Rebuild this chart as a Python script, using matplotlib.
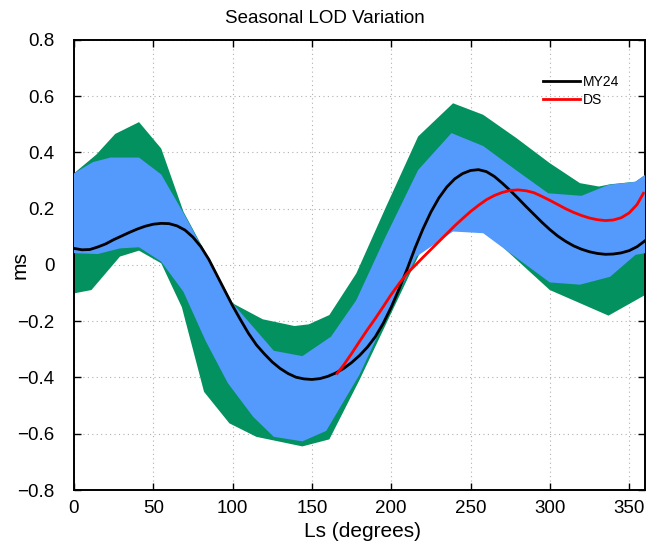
import matplotlib
matplotlib.use("Agg")
import matplotlib.pyplot as plt

plt.rcParams['font.family'] = ['Liberation Sans', 'DejaVu Sans']

# ---- data ----
# outer (green) envelope
gu_x = [0, 14, 26, 41, 55, 69, 100, 119, 139, 148, 161, 178, 197, 217, 239, 258, 279, 300, 319, 331, 338, 354, 360]
gu_y = [0.326, 0.392, 0.466, 0.508, 0.414, 0.19, -0.136, -0.193, -0.217, -0.211, -0.178, -0.03, 0.21, 0.457, 0.575, 0.534, 0.451, 0.362, 0.291, 0.279, 0.287, 0.296, 0.32]
gl_x = [0, 11, 29, 41, 55, 68, 82, 98, 115, 144, 161, 180, 197, 218, 240, 258, 300, 337, 360]
gl_y = [-0.101, -0.089, 0.030, 0.051, 0.006, -0.15, -0.451, -0.563, -0.611, -0.645, -0.62, -0.409, -0.207, 0.042, 0.131, 0.127, -0.089, -0.18, -0.107]
# inner (blue) band
bu_x = [0, 12, 23, 41, 55, 69, 100, 126, 144, 162, 178, 196, 217, 238, 258, 279, 299, 320, 337, 354, 360]
bu_y = [0.326, 0.366, 0.382, 0.382, 0.322, 0.185, -0.136, -0.305, -0.324, -0.255, -0.125, 0.095, 0.338, 0.469, 0.423, 0.336, 0.255, 0.246, 0.285, 0.296, 0.32]
bl_x = [0, 15, 29, 41, 55, 69, 83, 97, 113, 126, 144, 159, 180, 197, 216, 239, 258, 300, 319, 338, 354, 360]
bl_y = [0.042, 0.039, 0.059, 0.063, 0.012, -0.095, -0.27, -0.42, -0.54, -0.611, -0.627, -0.59, -0.39, -0.185, 0.03, 0.119, 0.113, -0.062, -0.07, -0.042, 0.036, 0.042]

# MY24 curve
my24_ls = list(range(0, 361, 5))
my24_v = [0.059, 0.054, 0.055, 0.064, 0.075, 0.090, 0.103, 0.116, 0.128, 0.138, 0.145, 0.148, 0.147,
          0.139, 0.124, 0.099, 0.065, 0.020, -0.035, -0.090, -0.145, -0.195, -0.243, -0.284, -0.316,
          -0.345, -0.368, -0.386, -0.399, -0.405, -0.407, -0.404, -0.396, -0.384, -0.368, -0.347,
          -0.322, -0.292, -0.255, -0.207, -0.150, -0.085, -0.015, 0.060, 0.128, 0.188, 0.238, 0.277,
          0.306, 0.325, 0.336, 0.339, 0.332, 0.315, 0.291, 0.265, 0.237, 0.208, 0.180, 0.152, 0.126,
          0.103, 0.084, 0.068, 0.056, 0.047, 0.041, 0.038, 0.039, 0.043, 0.051, 0.065, 0.086]
# DS curve
ds_ls = [166] + list(range(170, 360, 5)) + [359]
ds_v = [-0.385, -0.356, -0.315, -0.272, -0.230, -0.190, -0.148, -0.105, -0.066, -0.030, -0.002,
        0.027, 0.055, 0.083, 0.111, 0.139, 0.165, 0.190, 0.212, 0.232, 0.247, 0.258, 0.265, 0.267,
        0.264, 0.257, 0.244, 0.230, 0.215, 0.200, 0.187, 0.176, 0.167, 0.161, 0.158, 0.160, 0.168,
        0.185, 0.215, 0.255]

xticks = [0, 50, 100, 150, 200, 250, 300, 350]
yticks = [-0.8, -0.6, -0.4, -0.2, 0, 0.2, 0.4, 0.6, 0.8]
ytick_labels = ['\u22120.8', '\u22120.6', '\u22120.4', '\u22120.2', '0', '0.2', '0.4', '0.6', '0.8']

green = '#03915f'
blue = '#5499fc'

fig = plt.figure(figsize=(6.56, 5.47), dpi=100)
ax = fig.add_axes([0.1128, 0.1042, 0.8704, 0.8227])

ax.fill(gu_x + gl_x[::-1], gu_y + gl_y[::-1], color=green, lw=0, zorder=2)
ax.fill(bu_x + bl_x[::-1], bu_y + bl_y[::-1], color=blue, lw=0, zorder=3)
ax.plot(my24_ls, my24_v, color='black', lw=2, label='MY24', zorder=4, solid_joinstyle='round')
ax.plot(ds_ls, ds_v, color='red', lw=2, label='DS', zorder=5, solid_joinstyle='round')

ax.set_xlim(0, 360)
ax.set_ylim(-0.8, 0.8)
ax.set_xticks(xticks)
ax.set_yticks(yticks)
ax.set_yticklabels(ytick_labels)
ax.tick_params(direction='in', length=5, width=1, labelsize=13.5, top=True, right=True)
ax.tick_params(axis='y', pad=14)
ax.tick_params(axis='x', pad=7)
ax.grid(True, linestyle=(0, (1, 3)), color='#b0b0b0', lw=0.8)
ax.set_axisbelow(True)
for s in ax.spines.values():
    s.set_linewidth(1.4)

ax.set_title('Seasonal LOD Variation', fontsize=13.5, pad=12, x=0.44)
ax.set_xlabel('Ls (degrees)', fontsize=15)
ax.set_ylabel('ms', fontsize=15)
ax.xaxis.set_label_coords(0.506, -0.07)
ax.yaxis.set_label_coords(-0.078, 0.5)

ax.legend(loc='upper left', bbox_to_anchor=(0.80, 0.95), frameon=False, fontsize=10,
          handlelength=2.65, handletextpad=0.2, labelspacing=0.3)

fig.savefig('out.png', dpi=100)
